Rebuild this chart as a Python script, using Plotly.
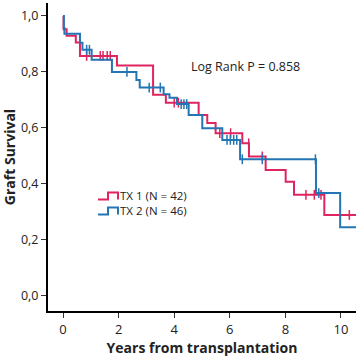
import plotly.graph_objects as go
import numpy as np

# TX 1 step curve (event times, survival after event)
tx1_t = [0, 0.02, 0.13, 0.46, 0.61, 1.94, 3.24, 3.70, 4.88, 5.19, 5.49, 6.45, 6.69, 7.29, 8.01, 8.31, 9.40, 10.54]
tx1_s = [1.0, 0.952, 0.929, 0.905, 0.857, 0.823, 0.718, 0.690, 0.646, 0.617, 0.581, 0.545, 0.498, 0.450, 0.408, 0.361, 0.289, 0.289]
tx1_c = [0.85, 1.34, 1.44, 1.59, 1.70, 4.0, 4.15, 5.64, 6.03, 6.68, 7.17, 8.74, 9.04, 9.28, 10.30]

# TX 2 step curve
tx2_t = [0, 0.03, 0.05, 0.61, 0.70, 1.03, 1.76, 2.64, 2.76, 3.62, 3.83, 4.10, 4.52, 5.01, 5.73, 6.37, 9.10, 9.97, 10.54]
tx2_s = [1.0, 0.957, 0.936, 0.904, 0.879, 0.843, 0.800, 0.771, 0.744, 0.720, 0.708, 0.685, 0.646, 0.599, 0.557, 0.488, 0.367, 0.245, 0.245]
tx2_c = [0.85, 0.95, 2.30, 3.10, 3.50, 4.25, 4.35, 4.45, 5.90, 6.02, 6.14, 6.25, 6.45, 7.17, 9.08, 9.20]

x_ticks = [0, 2, 4, 6, 8, 10]
y_ticks = [0.0, 0.2, 0.4, 0.6, 0.8, 1.0]
y_ticktext = ["0,0", "0,2", "0,4", "0,6", "0,8", "1,0"]
legend_names = ["TX 1 (N = 42)", "TX 2 (N = 46)"]

RED = "#E0245F"
BLUE = "#2375B4"
W, H = 358, 359
L, R, T, B = 48, 2, 3, 48


def step_at(ts, ss, c):
    idx = np.searchsorted(np.array(ts), c, side="right") - 1
    return ss[max(idx, 0)]


fig = go.Figure()
for name, ts, ss, cs, col in [(legend_names[0], tx1_t, tx1_s, tx1_c, RED),
                               (legend_names[1], tx2_t, tx2_s, tx2_c, BLUE)]:
    fig.add_trace(go.Scatter(x=ts, y=ss, mode="lines", line=dict(shape="hv", color=col, width=2),
                             name=name, showlegend=False))
    fig.add_trace(go.Scatter(x=cs, y=[step_at(ts, ss, c) for c in cs], mode="markers",
                             marker=dict(symbol="line-ns", size=7, line=dict(color=col, width=1.5)),
                             showlegend=False, hoverinfo="skip"))

fig.add_annotation(x=4.55, y=0.82, xref="x", yref="y", text="Log Rank P = 0.858", showarrow=False,
                   font=dict(size=12.5, color="#222"), xanchor="left", yanchor="middle")

# custom legend with step-shaped symbols (pixel positions -> paper coords)
pw, ph = W - L - R, H - T - B


def px(xp):
    return (xp - L) / pw


def py(yp):
    return 1 - (yp - T) / ph


row_y = [195.5, 210.5]
for yc, col in zip(row_y, [RED, BLUE]):
    x0, x1, x2 = 98, 108, 118
    path = (f"M {px(x0)} {py(yc + 4)} L {px(x1)} {py(yc + 4)} L {px(x1)} {py(yc - 3)} "
            f"L {px(x2)} {py(yc - 3)} L {px(x2)} {py(yc + 4)}")
    fig.add_shape(type="path", path=path, xref="paper", yref="paper", line=dict(color=col, width=2))
fig.add_annotation(x=px(119), y=py(sum(row_y) / 2), xref="paper", yref="paper",
                   text="<br>".join(legend_names), showarrow=False, align="left",
                   xanchor="left", yanchor="middle", borderpad=0, font=dict(size=11.5, color="#222"))

fig.update_layout(
    width=W, height=H,
    margin=dict(l=L, r=R, t=T, b=B),
    paper_bgcolor="white", plot_bgcolor="white",
    font=dict(family="Open Sans", size=12, color="#333"),
    showlegend=False,
    xaxis=dict(range=[-0.54, 10.54], tickvals=x_ticks, showline=True, linecolor="black", linewidth=2,
               ticks="outside", ticklen=5, tickcolor="#333", showgrid=False, zeroline=False, automargin=False,
               tickfont=dict(size=13, color="#222"),
               title=dict(text="<b>Years from transplantation</b>", font=dict(size=14, color="#222"), standoff=5)),
    yaxis=dict(range=[-0.054, 1.046], tickvals=y_ticks, ticktext=y_ticktext, showline=True, linecolor="black",
               linewidth=2, ticks="outside", ticklen=5, tickcolor="#333", showgrid=False, zeroline=False,
               automargin=False, tickfont=dict(size=12.5, color="#222"),
               title=dict(text="<b>Graft Survival</b>", font=dict(size=14, color="#222"), standoff=3)),
)
fig.write_html("out.html", config={"displayModeBar": False},
               post_script="document.body.style.margin='0';")
